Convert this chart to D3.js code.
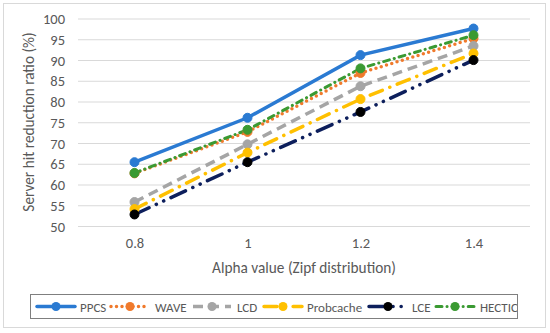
<!DOCTYPE html>
<html>
<head>
<meta charset="utf-8">
<script src="https://cdn.jsdelivr.net/npm/d3@7"></script>
<style>
  body { margin: 0; background: #fff; }
  text { font-family: Carlito, Calibri, "Open Sans", sans-serif; fill: #595959; }
</style>
</head>
<body>
<script>
// categories on the x axis
const alphas = ["0.8", "1", "1.2", "1.4"];
// series values
const ppcs = [65.5, 76.2, 91.3, 97.7];
const wave = [62.8, 72.8, 87.0, 95.3];
const lcd = [55.9, 69.8, 83.8, 93.5];
const probcache = [54.2, 67.8, 80.7, 91.7];
const lce = [52.9, 65.5, 77.6, 90.1];
const hectic = [62.9, 73.3, 88.1, 96.1];
const yTicks = [50, 55, 60, 65, 70, 75, 80, 85, 90, 95, 100];

const series = [
    { name: "PPCS", values: ppcs, color: "#2a7ad2", dash: null, width: 3.5, cap: "round", marker: "#2a7ad2" },
    { name: "WAVE", values: wave, color: "#f07a2c", dash: "0,5.5", width: 3.5, cap: "round", marker: "#f07a2c" },
    { name: "LCD", values: lcd, color: "#a5a5a5", dash: "10,6", width: 3.5, cap: "butt", marker: "#a5a5a5" },
    { name: "Probcache", values: probcache, color: "#ffc000", dash: "13,8,0.1,8", width: 3.5, cap: "round", marker: "#ffc000" },
    { name: "LCE", values: lce, color: "#0d1f5c", dash: "16,8,0.1,8,0.1,8", width: 3.5, cap: "round", marker: "#000000" },
    { name: "HECTIC", values: hectic, color: "#3a9a32", dash: "6,5,0.1,5", width: 3, cap: "round", marker: "#3a9a32" }
];

const w = 550;
const h = 333;

const svg = d3.select("body")
    .append("svg")
    .attr("width", w)
    .attr("height", h);

// outer chart border
svg.append("rect")
    .attr("x", 3.5).attr("y", 3.5)
    .attr("width", 542).attr("height", 324)
    .attr("fill", "#fff")
    .attr("stroke", "#d9d9d9");

const xScale = d3.scalePoint()
    .domain(alphas)
    .range([78, 530])
    .padding(0.5);

const yScale = d3.scaleLinear()
    .domain([50, 100])
    .range([226.5, 19]);

// gridlines
svg.append("g")
    .selectAll("line")
    .data(yTicks)
    .enter()
    .append("line")
    .attr("x1", 78).attr("x2", 530)
    .attr("y1", d => yScale(d)).attr("y2", d => yScale(d))
    .attr("stroke", "#d9d9d9")
    .attr("stroke-width", 1);

// y axis labels
const yAxis = d3.axisLeft(yScale).tickValues(yTicks).tickSize(0).tickPadding(13);
const yAxisG = svg.append("g")
    .attr("transform", "translate(78,0)")
    .call(yAxis);
yAxisG.select(".domain").remove();
yAxisG.selectAll("text").style("font-size", "14.5px").attr("fill", "#595959");

// x axis labels
const xAxis = d3.axisBottom(xScale).tickSize(0).tickPadding(11);
const xAxisG = svg.append("g")
    .attr("transform", "translate(0,226.5)")
    .call(xAxis);
xAxisG.select(".domain").remove();
xAxisG.selectAll("text").style("font-size", "14.5px").attr("fill", "#595959");

// axis titles
svg.append("text")
    .text("Alpha value (Zipf distribution)")
    .attr("x", 304).attr("y", 273)
    .attr("text-anchor", "middle")
    .style("font-size", "15.3px");

svg.append("text")
    .text("Server hit reduction ratio (%)")
    .attr("transform", "translate(34,122) rotate(-90)")
    .attr("text-anchor", "middle")
    .style("font-size", "15.3px");

// lines and markers
const line = d3.line()
    .x((d, i) => xScale(alphas[i]))
    .y(d => yScale(d));

series.forEach(s => {
    svg.append("path")
        .datum(s.values)
        .attr("d", line)
        .attr("fill", "none")
        .attr("stroke", s.color)
        .attr("stroke-width", s.width)
        .attr("stroke-linecap", s.cap)
        .attr("stroke-dasharray", s.dash);
});
series.forEach(s => {
    svg.append("g")
        .selectAll("circle")
        .data(s.values)
        .enter()
        .append("circle")
        .attr("cx", (d, i) => xScale(alphas[i]))
        .attr("cy", d => yScale(d))
        .attr("r", 4.5)
        .attr("fill", s.marker)
        .attr("stroke", s.marker);
});

// legend: marker centre and text start for each entry
const legendItems = [
    { m: 56, tx: 80 },
    { m: 130, tx: 155 },
    { m: 212, tx: 237 },
    { m: 283, tx: 307 },
    { m: 388, tx: 412 },
    { m: 455, tx: 480 }
];
const legend = svg.append("g");
const clip = svg.append("clipPath").attr("id", "legclip");
clip.append("rect").attr("x", 30).attr("y", 294).attr("width", 488).attr("height", 25);
legend.attr("clip-path", "url(#legclip)");

series.forEach((s, i) => {
    const li = legendItems[i];
    legend.append("line")
        .attr("x1", li.m - 19).attr("x2", li.m + 19)
        .attr("y1", 306.5).attr("y2", 306.5)
        .attr("stroke", s.color)
        .attr("stroke-width", s.width)
        .attr("stroke-linecap", s.cap)
        .attr("stroke-dasharray", s.dash);
    legend.append("circle")
        .attr("cx", li.m).attr("cy", 306.5)
        .attr("r", 4.5)
        .attr("fill", s.marker);
    legend.append("text")
        .text(s.name)
        .attr("x", li.tx).attr("y", 311.5)
        .style("font-size", "13px");
});
svg.append("rect")
    .attr("x", 30.5).attr("y", 294.5)
    .attr("width", 487).attr("height", 24)
    .attr("fill", "none")
    .attr("stroke", "#7f7f7f");
</script>
</body>
</html>
